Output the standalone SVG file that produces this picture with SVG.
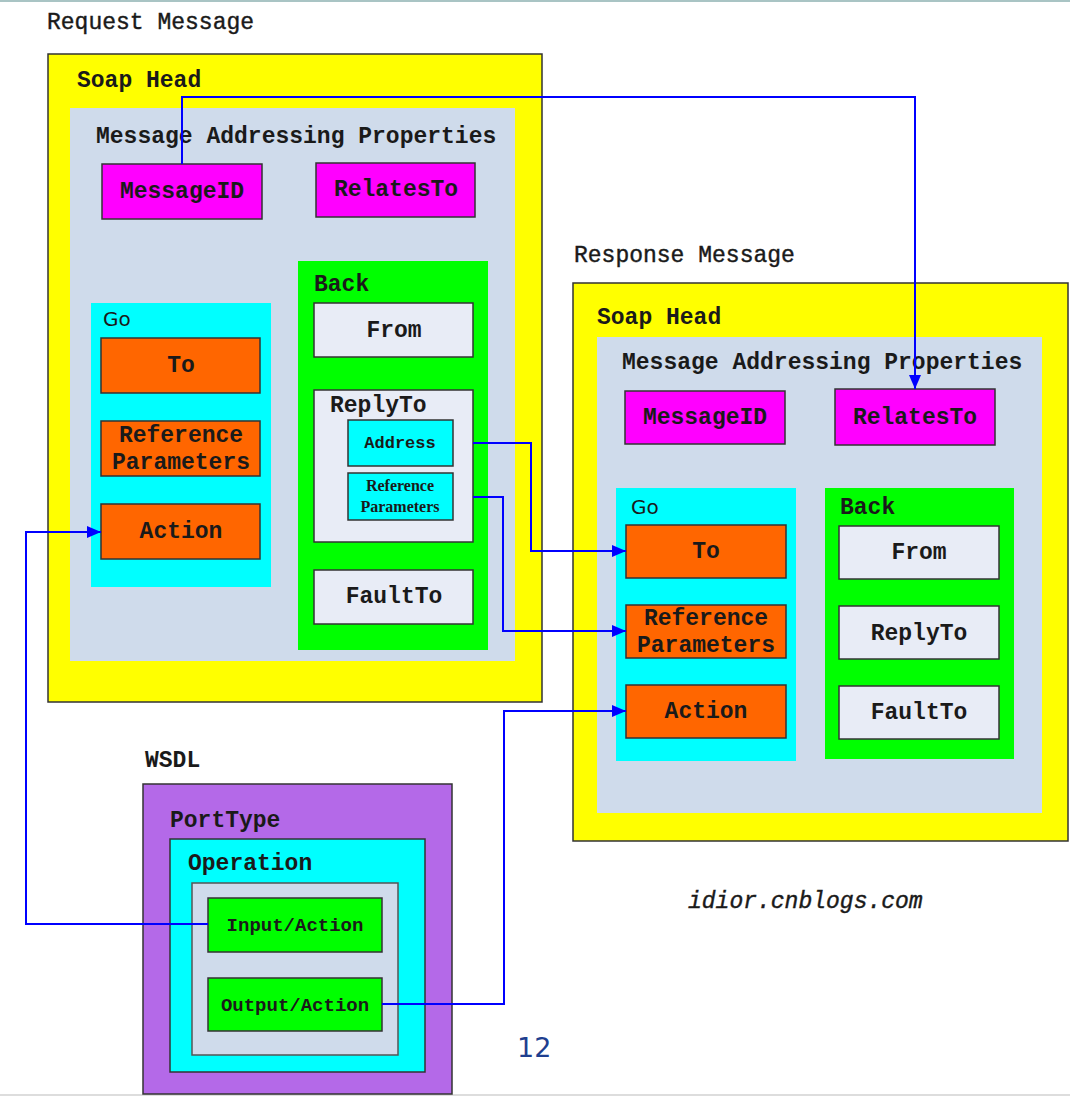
<svg xmlns="http://www.w3.org/2000/svg" width="1070" height="1096" viewBox="0 0 1070 1096">
<style>
.t{font-family:"Liberation Mono","Courier New",monospace;font-weight:bold;font-size:23px;fill:#1a1a1a}
.tn{font-family:"Liberation Mono","Courier New",monospace;font-weight:normal;font-size:23px;fill:#1a1a1a;stroke:#1a1a1a;stroke-width:0.4}
.c{text-anchor:middle}
.sans{font-family:"DejaVu Sans",Verdana,sans-serif;font-size:20px;fill:#1a1a1a}
.yel{fill:#FFFF00;stroke:#333;stroke-width:1.5}
.lb{fill:#CFDBEB}
.cy{fill:#00FFFF}
.gr{fill:#00FF00}
.mag{fill:#FF00FF;stroke:#333;stroke-width:1.5}
.org{fill:#FF6600;stroke:#333;stroke-width:1.5}
.pale{fill:#E8ECF6;stroke:#333;stroke-width:1.5}
.cyb{fill:#00FFFF;stroke:#333;stroke-width:1.5}
.grb{fill:#00FF00;stroke:#333;stroke-width:1.5}
.pur{fill:#B469E8;stroke:#333;stroke-width:1.5}
.lbb{fill:#CFDBEB;stroke:#555;stroke-width:1.5}
.conn{fill:none;stroke:#0000FF;stroke-width:2}
.sm{font-family:"Liberation Mono","Courier New",monospace;font-weight:bold;fill:#1a1a1a}
.tr{font-family:"Liberation Serif","Times New Roman",serif;font-weight:bold;font-size:16px;fill:#1a1a1a}
</style>
<defs>
<marker id="ah" viewBox="0 0 14 12" refX="14" refY="6" markerWidth="14" markerHeight="12" markerUnits="userSpaceOnUse" orient="auto">
<path d="M0,0 L14,6 L0,12 Z" fill="#0000FF"/>
</marker>
</defs>
<rect x="0" y="0" width="1070" height="1096" fill="#FFFFFF"/>
<line x1="0" y1="1" x2="1070" y2="1" stroke="#A9C4C4" stroke-width="2"/>
<line x1="0" y1="1095" x2="1070" y2="1095" stroke="#DDDDDD" stroke-width="2"/>

<g id="request">
<text class="tn" x="47" y="29">Request Message</text>
<rect class="yel" x="48" y="54" width="494" height="648"/>
<text class="t" x="77" y="87">Soap Head</text>
<rect class="lb" x="70" y="108" width="445" height="553"/>
<text class="t" x="96" y="143">Message Addressing Properties</text>
<g id="req-messageid"><rect class="mag" x="102" y="164" width="160" height="55"/><text class="t c" x="182" y="198">MessageID</text></g>
<g id="req-relatesto"><rect class="mag" x="316" y="163" width="159" height="54"/><text class="t c" x="396" y="196">RelatesTo</text></g>
<g id="req-go">
<rect class="cy" x="91" y="303" width="180" height="284"/>
<text class="sans" x="103" y="326">Go</text>
<g id="req-to"><rect class="org" x="101" y="338" width="159" height="55"/><text class="t c" x="181" y="372">To</text></g>
<g id="req-refparams"><rect class="org" x="101" y="421" width="159" height="55"/><text class="t c" x="181" y="442">Reference</text><text class="t c" x="181" y="469">Parameters</text></g>
<g id="req-action"><rect class="org" x="101" y="504" width="159" height="55"/><text class="t c" x="181" y="538">Action</text></g>
</g>
<g id="req-back">
<rect class="gr" x="298" y="261" width="190" height="389"/>
<text class="t" x="314" y="291">Back</text>
<g id="req-from"><rect class="pale" x="314" y="303" width="159" height="54"/><text class="t c" x="394" y="337">From</text></g>
<g id="req-replyto"><rect class="pale" x="314" y="390" width="159" height="152"/><text class="t" x="330" y="412">ReplyTo</text>
<g id="req-address"><rect class="cyb" x="348" y="420" width="105" height="46"/><text class="sm c" x="400" y="448" font-size="17">Address</text></g>
<g id="req-rp-small"><rect class="cyb" x="348" y="473" width="105" height="47"/><text class="tr c" x="400" y="491">Reference</text><text class="tr c" x="400" y="512">Parameters</text></g>
</g>
<g id="req-faultto"><rect class="pale" x="314" y="570" width="159" height="54"/><text class="t c" x="394" y="603">FaultTo</text></g>
</g>
</g>

<g id="response">
<text class="tn" x="574" y="262">Response Message</text>
<rect class="yel" x="573" y="283" width="495" height="558"/>
<text class="t" x="597" y="324">Soap Head</text>
<rect class="lb" x="597" y="337" width="445" height="476"/>
<text class="t" x="622" y="369">Message Addressing Properties</text>
<g id="res-messageid"><rect class="mag" x="625" y="391" width="160" height="53"/><text class="t c" x="705" y="424">MessageID</text></g>
<g id="res-relatesto"><rect class="mag" x="835" y="389" width="160" height="56"/><text class="t c" x="915" y="424">RelatesTo</text></g>
<g id="res-go">
<rect class="cy" x="616" y="488" width="180" height="273"/>
<text class="sans" x="631" y="514">Go</text>
<g id="res-to"><rect class="org" x="626" y="525" width="160" height="53"/><text class="t c" x="706" y="558">To</text></g>
<g id="res-refparams"><rect class="org" x="626" y="605" width="160" height="53"/><text class="t c" x="706" y="625">Reference</text><text class="t c" x="706" y="652">Parameters</text></g>
<g id="res-action"><rect class="org" x="626" y="685" width="160" height="53"/><text class="t c" x="706" y="718">Action</text></g>
</g>
<g id="res-back">
<rect class="gr" x="825" y="488" width="189" height="271"/>
<text class="t" x="840" y="514">Back</text>
<g id="res-from"><rect class="pale" x="839" y="526" width="160" height="53"/><text class="t c" x="919" y="559">From</text></g>
<g id="res-replyto"><rect class="pale" x="839" y="606" width="160" height="53"/><text class="t c" x="919" y="640">ReplyTo</text></g>
<g id="res-faultto"><rect class="pale" x="839" y="686" width="160" height="53"/><text class="t c" x="919" y="719">FaultTo</text></g>
</g>
</g>

<g id="wsdl">
<text class="t" x="145" y="767">WSDL</text>
<rect class="pur" x="143" y="784" width="309" height="310"/>
<text class="t" x="170" y="827">PortType</text>
<rect class="cyb" x="170" y="839" width="255" height="233"/>
<text class="t" x="188" y="870">Operation</text>
<rect class="lbb" x="192" y="883" width="206" height="172"/>
<g id="input-action"><rect class="grb" x="208" y="898" width="174" height="54"/><text class="sm c" x="295" y="931" font-size="19">Input/Action</text></g>
<g id="output-action"><rect class="grb" x="208" y="978" width="174" height="53"/><text class="sm c" x="295" y="1011" font-size="19">Output/Action</text></g>
</g>

<g id="footer">
<text x="688" y="908" style="font-family:'Liberation Mono','Courier New',monospace;font-style:italic;font-size:23px;fill:#1a1a1a;stroke:#1a1a1a;stroke-width:0.4">idior.cnblogs.com</text>
<text x="517" y="1057" style="font-family:'DejaVu Sans',Verdana,sans-serif;font-size:27px;fill:#1F3F8F">12</text>
</g>

<g id="connectors">
<path class="conn" d="M182,164 V97 H915 V389" marker-end="url(#ah)"/>
<path class="conn" d="M473,443 H531 V551 H626" marker-end="url(#ah)"/>
<path class="conn" d="M473,497 H503 V631 H626" marker-end="url(#ah)"/>
<path class="conn" d="M208,924 H26 V532 H101" marker-end="url(#ah)"/>
<path class="conn" d="M382,1004 H504 V711 H626" marker-end="url(#ah)"/>
</g>
</svg>
